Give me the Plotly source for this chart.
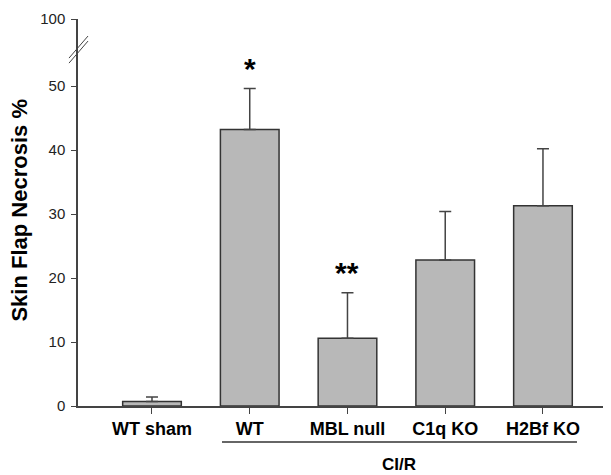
import plotly.graph_objects as go

categories = ["WT sham", "WT", "MBL null", "C1q KO", "H2Bf KO"]
means = [0.7, 43.2, 10.6, 22.8, 31.3]
errors = [0.7, 6.4, 7.1, 7.6, 8.9]
stars = ["", "*", "**", "", ""]
y_ticks = [0, 10, 20, 30, 40, 50]
break_top_label = "100"
break_top_pos = 60.47  # axis position where the "100" tick sits above the break
group_label = "CI/R"

xs = list(range(len(categories)))
FONT = "Liberation Sans, Arial, sans-serif"

fig = go.Figure()
fig.add_trace(go.Bar(
    x=xs, y=means, width=0.6,
    marker=dict(color="#b8b8b8", line=dict(color="#333333", width=1.5)),
    error_y=dict(type="data", symmetric=False, array=errors,
                 arrayminus=[0] * len(errors),
                 color="#444444", thickness=1.5, width=6),
    showlegend=False,
))

for x, m, e, s in zip(xs, means, errors, stars):
    if s:
        fig.add_annotation(x=x, y=m + e + 3.2, text="<b>" + s + "</b>",
                           showarrow=False, xref="x", yref="y",
                           yanchor="middle",
                           font=dict(family=FONT, size=30, color="black"))

# axis break marks
for (x0, y0, x1, y1) in [(-0.0169, 0.899, 0.0188, 0.956),
                         (-0.0169, 0.886, 0.0188, 0.943)]:
    fig.add_shape(type="line", xref="paper", yref="paper",
                  x0=x0, y0=y0, x1=x1, y1=y1,
                  line=dict(color="#444444", width=1))

# group line and label
fig.add_shape(type="line", xref="x", yref="paper",
              x0=0.716, x1=4.348, y0=-0.093, y1=-0.093,
              line=dict(color="#333333", width=1.5))
fig.add_annotation(x=(1 + 4) / 2 + 0.032, y=-0.150, xref="x", yref="paper",
                   text="<b>" + group_label + "</b>", showarrow=False,
                   yanchor="middle",
                   font=dict(family=FONT, size=17, color="black"))

fig.add_annotation(x=-0.1088, y=0.505, xref="paper", yref="paper",
                   text="<b>Skin Flap Necrosis %</b>", textangle=-90,
                   showarrow=False, xanchor="center", yanchor="middle",
                   font=dict(family=FONT, size=22, color="black"))

# page body has an 8px margin: size/offset compensate so the plot lands in place
fig.update_layout(
    width=603, height=467,
    margin=dict(l=70, r=0, t=11, b=69),
    paper_bgcolor="white", plot_bgcolor="white",
    xaxis=dict(range=[-0.757, 4.696], tickvals=xs,
               ticktext=["<b>" + c + "</b>" for c in categories],
               showline=True, linecolor="#444444", linewidth=1.5,
               ticks="outside", ticklen=6, tickcolor="#444444",
               showgrid=False, zeroline=False,
               tickfont=dict(family=FONT, size=18, color="black")),
    yaxis=dict(range=[0, break_top_pos],
               tickvals=y_ticks + [break_top_pos],
               ticktext=[str(t) for t in y_ticks] + [break_top_label],
               showline=True, linecolor="#444444", linewidth=1.5,
               ticks="outside", ticklen=5, tickcolor="#444444",
               ticklabelstandoff=3,
               showgrid=False, zeroline=False,
               tickfont=dict(family=FONT, size=15, color="#222222")),
)

fig.write_html("out.html")
